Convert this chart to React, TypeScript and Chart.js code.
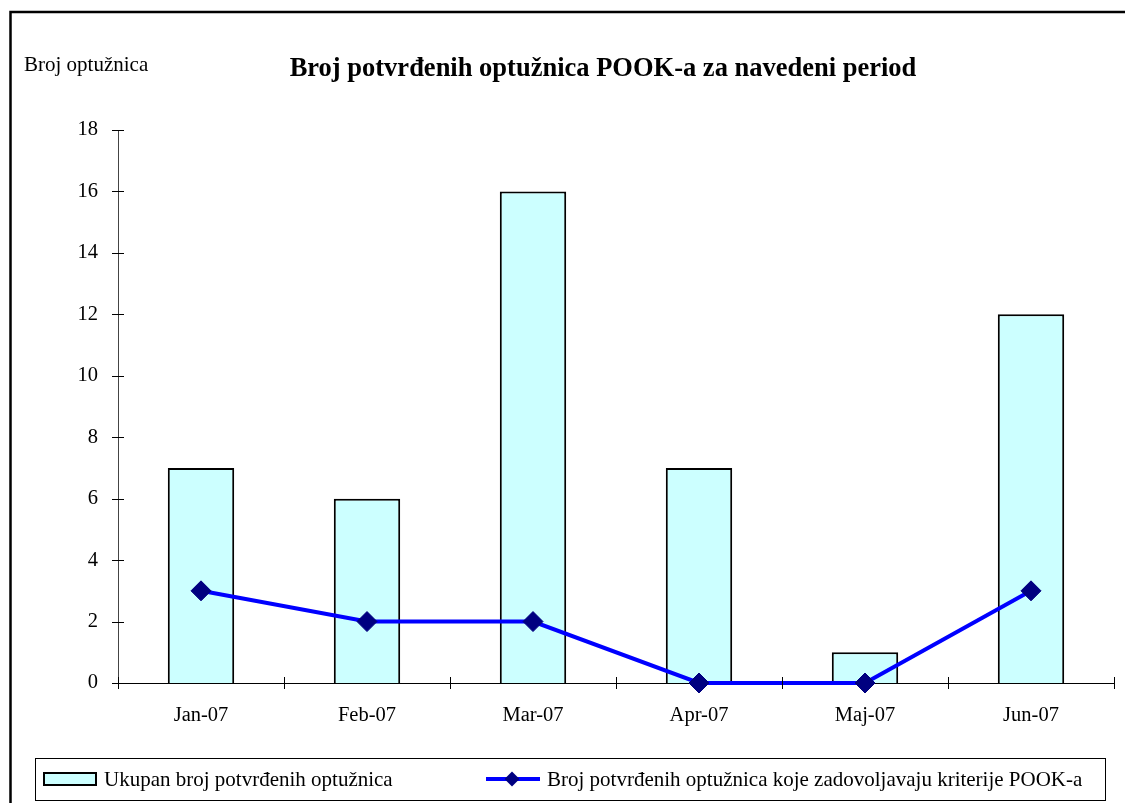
import React, { useEffect, useRef } from "react";
import { Chart, registerables } from "chart.js";

Chart.register(...registerables);

const categories = ["Jan-07", "Feb-07", "Mar-07", "Apr-07", "Maj-07", "Jun-07"];
const totalIndictments = [7, 6, 16, 7, 1, 12];
const qualifyingIndictments = [3, 2, 2, 0, 0, 3];
const yMin = 0;
const yMax = 18;
const yStep = 2;
const titleText = "Broj potvrđenih optužnica POOK-a za navedeni period";
const yAxisTitle = "Broj optužnica";
const seriesLabels = [
  "Ukupan broj potvrđenih optužnica",
  "Broj potvrđenih optužnica koje zadovoljavaju kriterije POOK-a",
];

const FONT = "'Liberation Serif', 'Times New Roman', serif";
const W = 1125;
const H = 803;

const decorPlugin = {
  id: "decor",
  beforeDraw(chart: any) {
    const ctx = chart.ctx;
    ctx.save();
    ctx.fillStyle = "#ffffff";
    ctx.fillRect(0, 0, chart.width, chart.height);
    ctx.strokeStyle = "#000000";
    ctx.lineWidth = 2.5;
    ctx.strokeRect(10.5, 12, chart.width + 50, chart.height + 50);
    ctx.restore();
  },
  afterDraw(chart: any) {
    const ctx = chart.ctx;
    const xs = chart.scales.x;
    const ys = chart.scales.y;
    const area = chart.chartArea;
    ctx.save();
    ctx.strokeStyle = "#000000";
    ctx.lineWidth = 1;
    // y tick marks crossing the axis
    ys.ticks.forEach((t: any) => {
      const y = Math.round(ys.getPixelForValue(t.value)) + 0.5;
      ctx.beginPath();
      ctx.moveTo(area.left - 6, y);
      ctx.lineTo(area.left + 6, y);
      ctx.stroke();
    });
    // x tick marks at category boundaries
    for (let k = 0; k <= categories.length; k++) {
      const x = Math.round(xs.getPixelForValue(k - 0.5)) + 0.5;
      ctx.beginPath();
      ctx.moveTo(x, area.bottom - 6);
      ctx.lineTo(x, area.bottom + 6);
      ctx.stroke();
    }

    // title
    ctx.fillStyle = "#000000";
    ctx.textBaseline = "alphabetic";
    ctx.textAlign = "center";
    ctx.font = `bold 26.5px ${FONT}`;
    ctx.fillText(titleText, 603, 76);

    // y axis title
    ctx.textAlign = "left";
    ctx.font = `21px ${FONT}`;
    ctx.fillText(yAxisTitle, 24, 71);

    // legend
    const lx0 = 35.5, ly0 = 758.5, lx1 = 1105.5, ly1 = 800.5;
    ctx.lineWidth = 1;
    ctx.strokeRect(lx0, ly0, lx1 - lx0, ly1 - ly0);
    const cy = 779;
    const bar = chart.data.datasets[1];
    const line = chart.data.datasets[0];
    ctx.fillStyle = bar.backgroundColor;
    ctx.fillRect(44, cy - 6, 52, 12);
    ctx.lineWidth = 2;
    ctx.strokeStyle = "#000000";
    ctx.strokeRect(44, cy - 6, 52, 12);
    ctx.fillStyle = "#000000";
    ctx.font = `21px ${FONT}`;
    ctx.fillText(bar.label, 104, 786);

    ctx.strokeStyle = line.borderColor;
    ctx.lineWidth = 4;
    ctx.beginPath();
    ctx.moveTo(486, cy);
    ctx.lineTo(540, cy);
    ctx.stroke();
    ctx.fillStyle = line.pointBackgroundColor;
    ctx.beginPath();
    ctx.moveTo(512 - 7.5, cy);
    ctx.lineTo(512, cy - 7.5);
    ctx.lineTo(512 + 7.5, cy);
    ctx.lineTo(512, cy + 7.5);
    ctx.closePath();
    ctx.fill();
    ctx.fillStyle = "#000000";
    ctx.fillText(line.label, 547, 786);
    ctx.restore();
  },
};

export default function App() {
  const ref = useRef<HTMLCanvasElement | null>(null);
  useEffect(() => {
    if (!ref.current) return;
    const chart = new Chart(ref.current, {
      type: "bar",
      data: {
        labels: categories,
        datasets: [
          {
            type: "line",
            label: seriesLabels[1],
            data: qualifyingIndictments,
            borderColor: "#0000FF",
            borderWidth: 4,
            tension: 0,
            fill: false,
            pointStyle: "rectRot",
            pointRadius: 10,
            pointHoverRadius: 10,
            pointBackgroundColor: "#000080",
            pointBorderColor: "#000080",
            pointBorderWidth: 1,
            clip: false,
            order: 0,
          } as any,
          {
            type: "bar",
            label: seriesLabels[0],
            data: totalIndictments,
            backgroundColor: "#CCFFFF",
            borderColor: "#000000",
            borderWidth: 2,
            barPercentage: 0.4,
            categoryPercentage: 1,
            order: 1,
          } as any,
        ],
      },
      options: {
        responsive: false,
        animation: false,
        events: [],
        layout: { padding: { left: 0, right: 7, top: 130, bottom: 0 } },
        plugins: {
          legend: { display: false },
          title: { display: false },
          tooltip: { enabled: false },
        },
        scales: {
          x: {
            type: "category",
            offset: true,
            grid: { display: false, drawTicks: false, tickLength: 0 },
            border: { display: true, color: "#000000", width: 1 },
            ticks: {
              color: "#000000",
              font: { family: FONT, size: 20.5 },
              padding: 20,
              maxRotation: 0,
              autoSkip: false,
            },
            afterFit(scale: any) {
              scale.height = 120;
            },
          },
          y: {
            min: yMin,
            max: yMax,
            grid: { display: false, drawTicks: false, tickLength: 0 },
            border: { display: true, color: "#444444", width: 1 },
            ticks: {
              stepSize: yStep,
              color: "#000000",
              font: { family: FONT, size: 20.5 },
              padding: 20,
            },
            afterFit(scale: any) {
              scale.width = 118;
            },
          },
        },
      },
      plugins: [decorPlugin],
    });
    return () => chart.destroy();
  }, []);
  return (
    <div style={{ position: "fixed", left: 0, top: 0, width: W, height: H, background: "#fff" }}>
      <canvas ref={ref} width={W} height={H} style={{ display: "block", width: W, height: H }} />
    </div>
  );
}
